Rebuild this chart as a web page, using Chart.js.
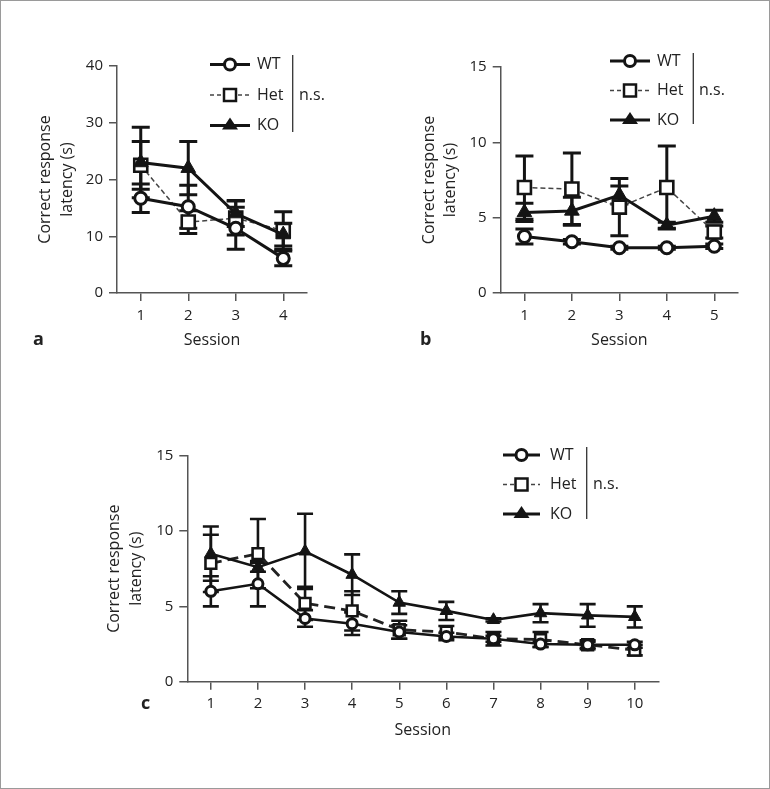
<!DOCTYPE html>
<html>
<head>
<meta charset="utf-8">
<script src="https://cdn.jsdelivr.net/npm/chart.js@4/dist/chart.umd.min.js"></script>
<style>
html, body { margin: 0; padding: 0; background: #fff; }
#fig { position: relative; width: 770px; height: 789px; overflow: hidden; }
#fig canvas { position: absolute; left: 0; top: 0; }
#frame { position: absolute; left: 0; top: 0; width: 770px; height: 789px; box-sizing: border-box; border: 1px solid #9a9a9a; pointer-events: none; }
</style>
</head>
<body>
<div id="fig">
  <canvas id="chartA" width="770" height="789"></canvas>
  <canvas id="chartB" width="770" height="789"></canvas>
  <canvas id="chartC" width="770" height="789"></canvas>
  <div id="frame"></div>
</div>
<script>
// --- data ---
const groups = ['WT', 'Het', 'KO'];
const statLabel = 'n.s.';

const sessionsA = ['1', '2', '3', '4'];
const yTicksA = [0, 10, 20, 30, 40];
const wtA = [16.7, 15.2, 11.4, 6.1];
const wtErrA = [2.5, 3.8, 3.7, 1.3];
const hetA = [22.5, 12.5, 13.2, 11.0];
const hetErrA = [4.2, 2.0, 3.0, 3.3];
const koA = [23.0, 22.0, 14.0, 10.3];
const koErrA = [6.2, 4.7, 2.3, 2.0];

const sessionsB = ['1', '2', '3', '4', '5'];
const yTicksB = [0, 5, 10, 15];
const wtB = [3.75, 3.4, 3.0, 3.0, 3.1];
const wtErrB = [0.5, 0.15, 0.1, 0.1, 0.15];
const hetB = [7.0, 6.9, 5.7, 7.0, 4.05];
const hetErrB = [2.1, 2.4, 1.9, 2.75, 0.4];
const koB = [5.35, 5.45, 6.5, 4.5, 5.1];
const koErrB = [0.6, 0.9, 0.6, 0.2, 0.4];

const sessionsC = ['1', '2', '3', '4', '5', '6', '7', '8', '9', '10'];
const yTicksC = [0, 5, 10, 15];
const wtC = [6.0, 6.5, 4.2, 3.85, 3.3, 3.0, 2.85, 2.5, 2.45, 2.45];
const wtErrC = [1.0, 1.5, 0.55, 0.75, 0.45, 0.25, 0.2, 0.2, 0.2, 0.2];
const hetC = [7.85, 8.5, 5.2, 4.7, 3.45, 3.3, 2.85, 2.8, 2.45, 2.1];
const hetErrC = [1.9, 2.3, 1.1, 1.3, 0.6, 0.4, 0.45, 0.5, 0.3, 0.35];
const koC = [8.5, 7.6, 8.65, 7.1, 5.25, 4.7, 4.1, 4.55, 4.4, 4.3];
const koErrC = [1.8, 0.3, 2.5, 1.35, 0.75, 0.6, 0.1, 0.6, 0.75, 0.7];

Chart.defaults.font.family = '"Open Sans", sans-serif';
Chart.defaults.color = '#222';

const INK = '#141414';
const AXIS = '#555';

// error bars, drawn under the lines and markers
const errorBars = {
  id: 'errorBars',
  beforeDatasetsDraw(chart, args, o) {
    const ctx = chart.ctx;
    const ys = chart.scales.y;
    ctx.save();
    ctx.strokeStyle = INK;
    ctx.lineWidth = o.width;
    ctx.lineCap = 'butt';
    chart.data.datasets.forEach((ds, i) => {
      const meta = chart.getDatasetMeta(i);
      meta.data.forEach((pt, j) => {
        const e = ds.errors[j];
        const top = ys.getPixelForValue(ds.data[j] + e);
        const bot = ys.getPixelForValue(ds.data[j] - e);
        ctx.beginPath();
        ctx.moveTo(pt.x, top);
        ctx.lineTo(pt.x, bot);
        ctx.moveTo(pt.x - o.cap / 2, top);
        ctx.lineTo(pt.x + o.cap / 2, top);
        ctx.moveTo(pt.x - o.cap / 2, bot);
        ctx.lineTo(pt.x + o.cap / 2, bot);
        ctx.stroke();
      });
    });
    ctx.restore();
  }
};

// legend block, "n.s." bracket and panel letter
const figLegend = {
  id: 'figLegend',
  afterDraw(chart, args, o) {
    const ctx = chart.ctx;
    ctx.save();
    groups.forEach((g, i) => {
      const y = o.y + i * o.dy;
      const cx = o.x + o.len / 2;
      ctx.beginPath();
      if (i === 1) {
        ctx.setLineDash([4, 3]);
        ctx.lineWidth = 1.5;
        ctx.strokeStyle = '#444';
      } else {
        ctx.setLineDash([]);
        ctx.lineWidth = 3;
        ctx.strokeStyle = INK;
      }
      ctx.moveTo(o.x, y);
      ctx.lineTo(o.x + o.len, y);
      ctx.stroke();
      ctx.setLineDash([]);
      ctx.strokeStyle = INK;
      ctx.fillStyle = '#fff';
      if (i === 0) {
        ctx.lineWidth = 3;
        ctx.beginPath();
        ctx.arc(cx, y, 5.5, 0, Math.PI * 2);
        ctx.fill();
        ctx.stroke();
      } else if (i === 1) {
        ctx.lineWidth = 2.5;
        ctx.fillRect(cx - 6, y - 6, 12, 12);
        ctx.strokeRect(cx - 6, y - 6, 12, 12);
      } else {
        ctx.fillStyle = INK;
        ctx.beginPath();
        ctx.moveTo(cx, y - 8);
        ctx.lineTo(cx + 8, y + 4);
        ctx.lineTo(cx - 8, y + 4);
        ctx.closePath();
        ctx.fill();
      }
      ctx.fillStyle = '#222';
      ctx.font = '16px "Open Sans"';
      ctx.textAlign = 'left';
      ctx.textBaseline = 'middle';
      ctx.fillText(g, o.textX, y);
    });
    ctx.strokeStyle = '#333';
    ctx.lineWidth = 1.3;
    ctx.beginPath();
    ctx.moveTo(o.barX, o.barTop);
    ctx.lineTo(o.barX, o.barBot);
    ctx.stroke();
    ctx.fillText(statLabel, o.nsX, o.y + o.dy);
    ctx.font = 'bold 18px "Open Sans"';
    ctx.textBaseline = 'alphabetic';
    ctx.fillText(o.letter, o.letterX, o.letterY);
    ctx.restore();
  }
};

function makePanel(id, p) {
  const s = p.style;
  const step = p.yTicks[1] - p.yTicks[0];
  return new Chart(document.getElementById(id), {
    type: 'line',
    data: {
      labels: p.labels,
      datasets: [
        {
          label: groups[0], data: p.wt, errors: p.wtErr, order: 0,
          borderColor: INK, borderWidth: s.line,
          pointStyle: 'circle', pointRadius: s.circle, pointBorderWidth: 3,
          pointBackgroundColor: '#fff', pointBorderColor: INK
        },
        {
          label: groups[1], data: p.het, errors: p.hetErr, order: 2,
          borderColor: s.hetColor, borderWidth: s.hetWidth, borderDash: s.hetDash,
          pointStyle: 'rect', pointRadius: s.square, pointBorderWidth: 2.6,
          pointBackgroundColor: '#fff', pointBorderColor: INK
        },
        {
          label: groups[2], data: p.ko, errors: p.koErr, order: 1,
          borderColor: INK, borderWidth: s.line,
          pointStyle: 'triangle', pointRadius: s.tri, pointBorderWidth: 1,
          pointBackgroundColor: INK, pointBorderColor: INK
        }
      ]
    },
    options: {
      responsive: false,
      animation: false,
      devicePixelRatio: 1,
      events: [],
      layout: { padding: p.pad },
      elements: { line: { tension: 0 } },
      scales: {
        x: {
          type: 'category',
          offset: true,
          afterFit(sc) { sc.height = p.xH; },
          grid: { drawOnChartArea: false, drawTicks: true, tickLength: 8, offset: false, color: AXIS, lineWidth: 1.5 },
          border: { display: true, color: AXIS, width: 1.5 },
          ticks: { color: '#222', font: { size: 15 }, padding: 5.5, maxRotation: 0, autoSkip: false },
          title: { display: true, text: 'Session', color: '#222', font: { size: 16, lineHeight: 1.35 }, padding: { top: 0, bottom: 0 } }
        },
        y: {
          min: p.yTicks[0],
          max: p.yTicks[p.yTicks.length - 1],
          afterFit(sc) { sc.width = p.yW; },
          grid: { drawOnChartArea: false, drawTicks: true, tickLength: 8, color: AXIS, lineWidth: 1.5 },
          border: { display: true, color: AXIS, width: 1.5 },
          ticks: { stepSize: step, color: '#222', font: { size: 15 }, padding: 6 },
          title: { display: true, text: ['Correct response', 'latency (s)'], color: '#222', font: { size: 16, lineHeight: 1.35 }, padding: { top: 2, bottom: 0 } }
        }
      },
      plugins: {
        legend: { display: false },
        tooltip: { enabled: false },
        errorBars: s.err,
        figLegend: p.legend
      }
    },
    plugins: [errorBars, figLegend]
  });
}

const styleAB = {
  line: 3, circle: 6, square: 9.2, tri: 8.5,
  hetColor: '#444', hetWidth: 1.5, hetDash: [5, 3],
  err: { width: 3, cap: 18 }
};
const styleC = {
  line: 2.6, circle: 5, square: 7.6, tri: 7.2,
  hetColor: '#222', hetWidth: 2.8, hetDash: [11, 6],
  err: { width: 2.6, cap: 16 }
};

makePanel('chartA', {
  labels: sessionsA, yTicks: yTicksA,
  wt: wtA, wtErr: wtErrA, het: hetA, hetErr: hetErrA, ko: koA, koErr: koErrA,
  style: styleAB,
  pad: { left: 32.7, right: 463, top: 66, bottom: 438.2 }, yW: 84.3, xH: 57.8,
  legend: { x: 210, len: 40, y: 64.5, dy: 30.5, textX: 257, barX: 292.7, barTop: 55, barBot: 132, nsX: 299, letter: 'a', letterX: 33, letterY: 345 }
});

makePanel('chartB', {
  labels: sessionsB, yTicks: yTicksB,
  wt: wtB, wtErr: wtErrB, het: hetB, hetErr: hetErrB, ko: koB, koErr: koErrB,
  style: styleAB,
  pad: { left: 416.2, right: 32, top: 67, bottom: 438.2 }, yW: 84.5, xH: 57.8,
  legend: { x: 610, len: 40, y: 61, dy: 29.5, textX: 657, barX: 693.3, barTop: 53, barBot: 124, nsX: 699, letter: 'b', letterX: 420, letterY: 345 }
});

makePanel('chartC', {
  labels: sessionsC, yTicks: yTicksC,
  wt: wtC, wtErr: wtErrC, het: hetC, hetErr: hetErrC, ko: koC, koErr: koErrC,
  style: styleC,
  pad: { left: 101.7, right: 111.7, top: 455.7, bottom: 48.2 }, yW: 85.6, xH: 59.1,
  legend: { x: 503, len: 37, y: 455, dy: 29.5, textX: 550, barX: 586.7, barTop: 447, barBot: 519, nsX: 593, letter: 'c', letterX: 141, letterY: 709 }
});
</script>
</body>
</html>
